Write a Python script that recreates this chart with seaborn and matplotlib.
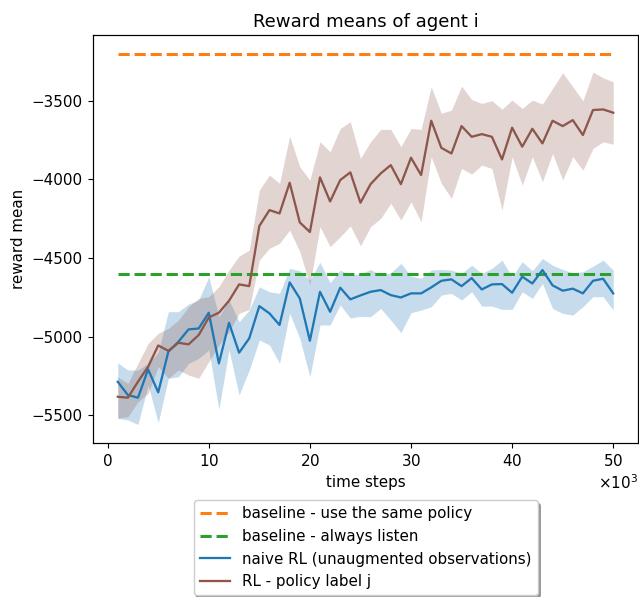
import numpy as np
import pandas as pd
import matplotlib
matplotlib.use("Agg")
import matplotlib.pyplot as plt
import seaborn as sns
from matplotlib.ticker import ScalarFormatter

# x positions in time steps (1k .. 50k)
steps = [1000 * k for k in range(1, 51)]

baseline_same_policy = -3200
baseline_always_listen = -4600

naive_mean = [-5286, -5370, -5387, -5207, -5353, -5095, -5031, -4953, -4947, -4847,
              -5169, -4911, -5101, -5010, -4805, -4851, -4925, -4654, -4756, -5025,
              -4714, -4841, -4688, -4762, -4737, -4714, -4703, -4735, -4750, -4724,
              -4724, -4686, -4644, -4635, -4678, -4627, -4699, -4667, -4665, -4720,
              -4618, -4661, -4576, -4673, -4707, -4694, -4724, -4644, -4631, -4724]
naive_upper = [-5165, -5211, -5211, -5169, -5100, -4840, -4840, -4792, -4767, -4618,
               -4872, -4767, -4904, -4830, -4682, -4714, -4724, -4565, -4580, -4640,
               -4527, -4656, -4576, -4608, -4600, -4572, -4608, -4593, -4534, -4614,
               -4629, -4576, -4572, -4576, -4597, -4545, -4597, -4565, -4513, -4618,
               -4523, -4580, -4502, -4545, -4572, -4593, -4587, -4551, -4513, -4576]
naive_lower = [-5518, -5529, -5557, -5307, -5546, -5264, -5254, -5169, -5137, -5084,
               -5461, -5084, -5370, -5211, -5021, -5052, -5169, -4851, -5010, -5254,
               -4925, -4925, -4798, -4881, -4870, -4872, -4820, -4894, -4974, -4847,
               -4830, -4809, -4735, -4724, -4767, -4714, -4805, -4805, -4826, -4826,
               -4714, -4756, -4661, -4820, -4851, -4862, -4809, -4745, -4745, -4830]

label_mean = [-5381, -5387, -5285, -5190, -5055, -5089, -5038, -5048, -4989, -4877,
              -4847, -4771, -4667, -4678, -4296, -4195, -4216, -4021, -4273, -4334,
              -3987, -4140, -4004, -3955, -4148, -4030, -3962, -3909, -4030, -3862,
              -3972, -3627, -3799, -3835, -3661, -3729, -3712, -3729, -3873, -3671,
              -3792, -3678, -3771, -3627, -3661, -3623, -3718, -3559, -3555, -3576]
label_upper = [-5254, -5296, -5169, -5042, -4978, -4947, -4894, -4809, -4756, -4745,
               -4682, -4576, -4487, -4449, -4068, -3972, -4025, -3725, -3920, -4004,
               -3761, -3824, -3676, -3633, -3866, -3761, -3682, -3682, -3792, -3676,
               -3682, -3411, -3580, -3559, -3407, -3492, -3517, -3500, -3553, -3496,
               -3549, -3496, -3521, -3422, -3322, -3411, -3500, -3318, -3354, -3379]
label_lower = [-5518, -5508, -5413, -5360, -5190, -5264, -5211, -5243, -5264, -5158,
               -5052, -4968, -4851, -4826, -4512, -4438, -4406, -4322, -4459, -4671,
               -4300, -4427, -4364, -4295, -4422, -4300, -4248, -4152, -4258, -4142,
               -4269, -3856, -4025, -4120, -3930, -3966, -3909, -3930, -4195, -3856,
               -4036, -3856, -4014, -3835, -4004, -3856, -3941, -3803, -3761, -3776]

labels = ["baseline - use the same policy", "baseline - always listen",
          "naive RL (unaugmented observations)", "RL - policy label j"]
colors = ["#ff7f0e", "#2ca02c", "#1f77b4", "#8c564b"]

S = 1.09  # overall scale of the reference rendering
plt.rcParams.update({
    "font.size": 10 * S,
    "xtick.major.size": 3.5 * S,
    "ytick.major.size": 3.5 * S,
    "axes.linewidth": 0.8 * S,
})

fig = plt.figure(figsize=(6.39, 5.97), dpi=100)
ax = fig.add_axes([93 / 639, 1 - 443 / 597, (638 - 93) / 639, (443 - 35) / 597])

sns.lineplot(x=steps, y=[baseline_same_policy] * len(steps), ax=ax, color=colors[0],
             linestyle="--", linewidth=2 * S, label=labels[0])
sns.lineplot(x=steps, y=[baseline_always_listen] * len(steps), ax=ax, color=colors[1],
             linestyle="--", linewidth=2 * S, label=labels[1])
sns.lineplot(x=steps, y=naive_mean, ax=ax, color=colors[2], linewidth=1.5 * S, label=labels[2])
ax.fill_between(steps, naive_lower, naive_upper, color=colors[2], alpha=0.25, linewidth=0)
sns.lineplot(x=steps, y=label_mean, ax=ax, color=colors[3], linewidth=1.5 * S, label=labels[3])
ax.fill_between(steps, label_lower, label_upper, color=colors[3], alpha=0.25, linewidth=0)

ax.set_title("Reward means of agent i", fontsize=12 * S)
ax.set_xlabel("time steps", fontsize=10 * S)
ax.set_ylabel("reward mean", fontsize=10 * S)
ax.set_yticks([-5500, -5000, -4500, -4000, -3500])
ax.set_xticks([0, 10000, 20000, 30000, 40000, 50000])
fmt = ScalarFormatter(useMathText=True)
fmt.set_powerlimits((3, 3))
ax.xaxis.set_major_formatter(fmt)

ax.legend(loc="upper center", bbox_to_anchor=(0.5, -0.122), shadow=True, fontsize=10 * S)

fig.savefig("out.png", dpi=100)
